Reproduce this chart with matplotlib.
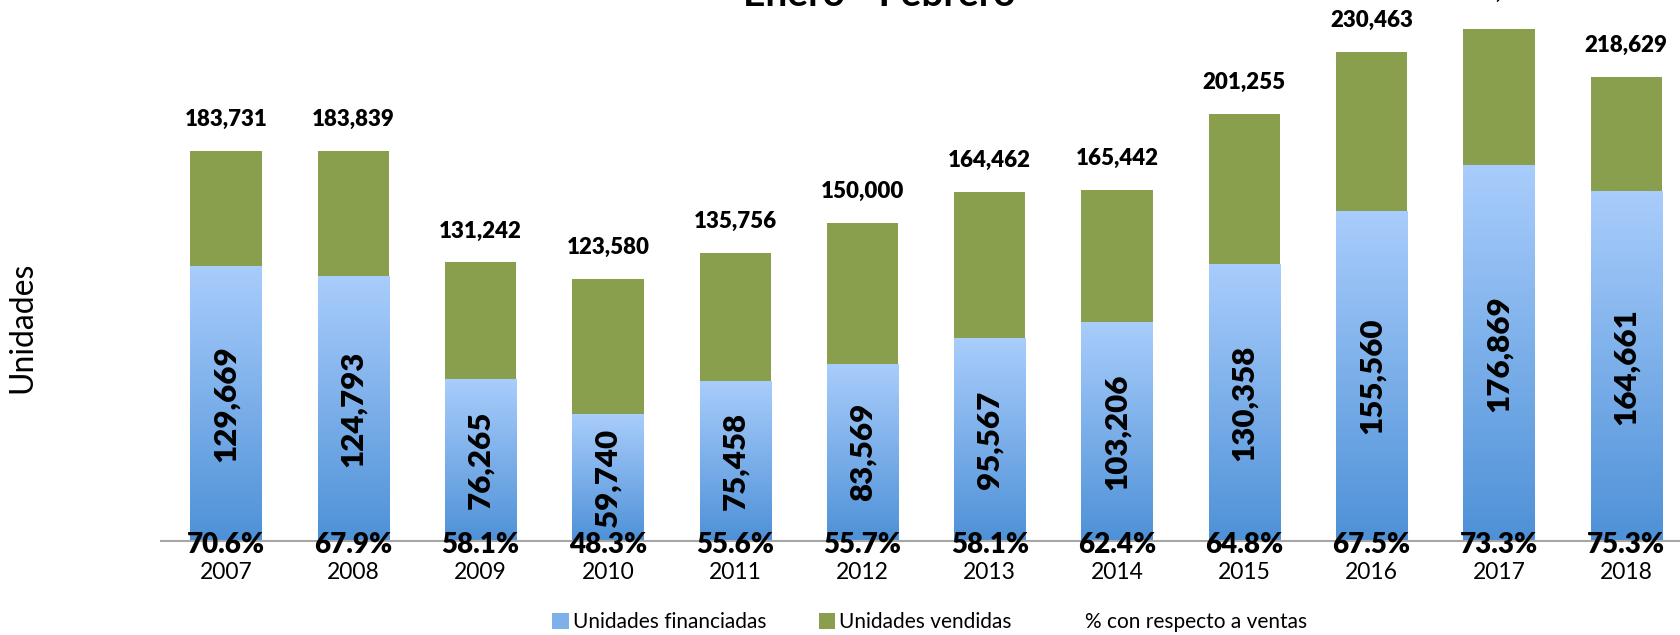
import matplotlib
matplotlib.use("Agg")
import matplotlib.pyplot as plt
import numpy as np
from matplotlib.colors import LinearSegmentedColormap
from matplotlib.patches import Patch
from matplotlib.lines import Line2D

plt.rcParams['font.family'] = ['Lato', 'DejaVu Sans']

# data
years = ['2007', '2008', '2009', '2010', '2011', '2012',
         '2013', '2014', '2015', '2016', '2017', '2018']
financiadas = [129669, 124793, 76265, 59740, 75458, 83569,
               95567, 103206, 130358, 155560, 176869, 164661]
vendidas = [183731, 183839, 131242, 123580, 135756, 150000,
            164462, 165442, 201255, 230463, 241295, 218629]
porcentaje = [70.6, 67.9, 58.1, 48.3, 55.6, 55.7,
              58.1, 62.4, 64.8, 67.5, 73.3, 75.3]

blue_light = '#a9cdfc'
blue_dark = '#4e91d7'
green = '#8a9f4e'
blue_cmap = LinearSegmentedColormap.from_list('azul', [blue_dark, blue_light])

fig = plt.figure(figsize=(16.81, 6.35), dpi=100)
ax = fig.add_axes([0.0958, 0.148, 0.9042, 0.852])

x = np.arange(len(years))
width = 0.56
resto = [v - f for v, f in zip(vendidas, financiadas)]

bars_fin = ax.bar(x, financiadas, width, color=blue_light, edgecolor='none', zorder=2)
ax.bar(x, resto, width, bottom=financiadas, color=green, edgecolor='none', zorder=2)

# vertical gradient inside every blue bar
grad = np.linspace(0, 1, 256).reshape(-1, 1)
for rect in bars_fin:
    x0, h, w = rect.get_x(), rect.get_height(), rect.get_width()
    im = ax.imshow(grad, cmap=blue_cmap, origin='lower', aspect='auto',
                   extent=[x0, x0 + w, 0, h], zorder=2.5)
    im.set_clip_path(rect)

ax.set_xlim(-0.51, 11.43)
ax.set_ylim(0, 254800)

# total labels sit above the bars; the 2017 one is pushed up past the top edge
label_gap = [14600] * len(years)
label_gap[10] = 17300
for i in range(len(years)):
    ax.text(x[i], vendidas[i] + label_gap[i], f'{vendidas[i]:,}', ha='center', va='center',
            fontsize=16, fontweight='heavy', clip_on=False, zorder=5)
    ax.text(x[i], financiadas[i] / 2, f'{financiadas[i]:,}', ha='center', va='center',
            rotation=90, fontsize=22.5, fontweight='heavy', zorder=5)
    ax.text(x[i], -1700, f'{porcentaje[i]:.1f}%', ha='center', va='center',
            fontsize=20, fontweight='heavy', clip_on=False, zorder=5)

ax.set_xticks(x)
ax.set_xticklabels(years, fontsize=16.5)
ax.tick_params(axis='x', length=0, pad=15)
ax.set_yticks([])
for side in ['top', 'right', 'left']:
    ax.spines[side].set_visible(False)
ax.spines['bottom'].set_color('#a6a6a6')
ax.spines['bottom'].set_linewidth(1.5)
ax.spines['bottom'].set_zorder(4)

fig.text(0.0135, 0.485, 'Unidades', rotation=90, ha='center', va='center', fontsize=23)

# title, clipped by the top edge as in the reference
fig.text(0.523, 1 - 6 / 635, 'Enero - Febrero', ha='center', va='baseline',
         fontsize=28, fontweight='bold')

handles = [Patch(facecolor='#7fb0ea', edgecolor='none'),
           Patch(facecolor=green, edgecolor='none'),
           Line2D([], [], color='none')]
fig.legend(handles, ['Unidades financiadas', 'Unidades vendidas', '% con respecto a ventas'],
           loc='center', bbox_to_anchor=(0.553, 1 - 622 / 635), ncol=3, frameon=False,
           fontsize=15, handlelength=0.8, handleheight=0.8, handletextpad=0.2,
           columnspacing=2.5)

fig.savefig('out.png', dpi=100)
